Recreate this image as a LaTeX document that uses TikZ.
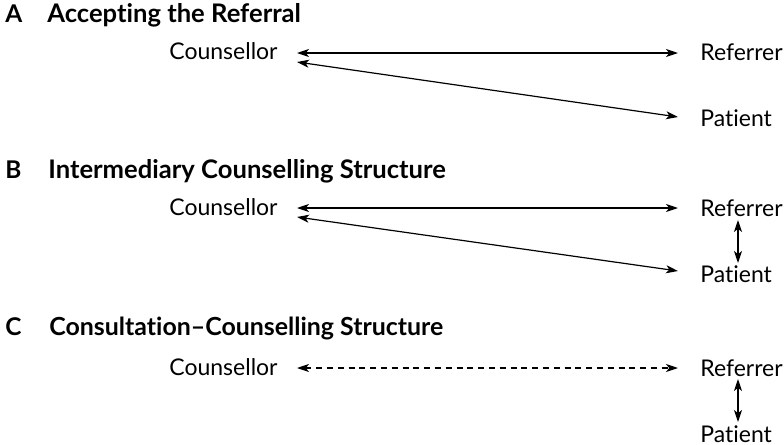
\documentclass[tikz,border=0pt]{standalone}
\usepackage{fontspec}
\setmainfont[Ligatures={NoCommon,TeX}]{Lato}
\usetikzlibrary{arrows.meta,calc}
\begin{document}
\begin{tikzpicture}[x=0.5pt,y=-0.5pt,
  label/.style={inner sep=0pt,font=\fontsize{11.5pt}{13pt}\selectfont},
  letter/.style={inner sep=0pt,anchor=base west,font=\fontsize{12.2pt}{14pt}\selectfont\bfseries},
  heading/.style={inner sep=0pt,anchor=base west,font=\fontsize{12.8pt}{14pt}\selectfont\bfseries},
  link/.style={line width=0.6pt,{Stealth[length=6pt,width=4pt,inset=1.6pt]}-{Stealth[length=6pt,width=4pt,inset=1.6pt]}},
  dlink/.style={link,dash pattern=on 3pt off 2.4pt}]
\useasboundingbox (0,0) rectangle (784,445);

% --- A: accepting the referral
\node[letter]  (la) at (5,22)  {A};
\node[heading] (ha) at (47,22) {Accepting the Referral};
\node[label,anchor=base east] (cA) at (278,59) {Counsellor};
\node[label,anchor=base west] (rA) at (700,60) {Referrer};
\node[label,anchor=base west] (pA) at (700,126) {Patient};
\draw[link] ($(cA.base east)+(19,-6)$) -- ($(rA.base west)+(-22,-7)$);
\draw[link] ($(cA.base east)+(19,3)$) -- ($(pA.base west)+(-22,-9)$);

% --- B: intermediary counselling structure
\node[letter]  (lb) at (5,178)  {B};
\node[heading] (hb) at (48,178) {Intermediary Counselling Structure};
\node[label,anchor=base east] (cB) at (278,215) {Counsellor};
\node[label,anchor=base west] (rB) at (700,216) {Referrer};
\node[label,anchor=base west] (pB) at (700,282) {Patient};
\draw[link] ($(cB.base east)+(19,-7)$) -- ($(rB.base west)+(-22,-8)$);
\draw[link] ($(cB.base east)+(19,2)$) -- ($(pB.base west)+(-22,-11)$);
\draw[link] ($(rB.base west)+(38,4)$) -- ($(pB.base west)+(38,-19)$);

% --- C: consultation-counselling structure
\node[letter]  (lc) at (5,335)  {C};
\node[heading,font=\fontsize{12.45pt}{14pt}\selectfont\bfseries] (hc) at (49,335) {Consultation–Counselling Structure};
\node[label,anchor=base east] (cC) at (278,375) {Counsellor};
\node[label,anchor=base west] (rC) at (700,376) {Referrer};
\node[label,anchor=base west] (pC) at (700,442) {Patient};
\draw[dlink] ($(cC.base east)+(19,-7)$) -- ($(rC.base west)+(-22,-8)$);
\draw[link] ($(rC.base west)+(38,3)$) -- ($(pC.base west)+(38,-20)$);
\end{tikzpicture}
\end{document}
